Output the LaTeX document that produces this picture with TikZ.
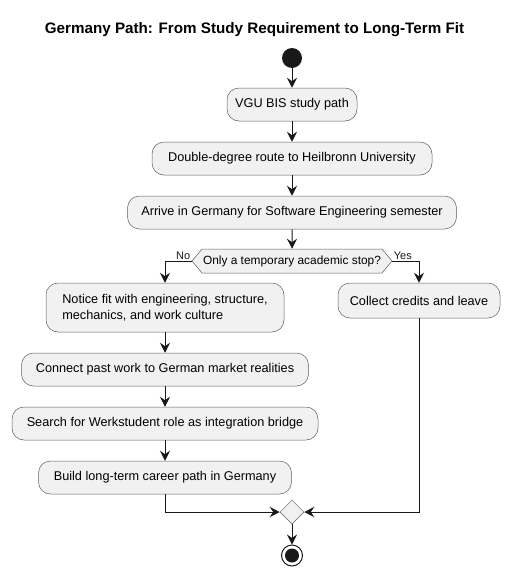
\documentclass[tikz,border=0pt]{standalone}
\usepackage{fontspec}
\setmainfont{Liberation Sans}
\usetikzlibrary{arrows.meta,shapes.geometric,shapes.symbols}
\tikzset{>={Stealth[length=10pt,width=10pt,inset=3.5pt]}}
\colorlet{penColor}{black!90}
\colorlet{boxFill}{black!5.5}
\tikzset{
  act/.style={draw=penColor!70, line width=0.5pt, fill=boxFill, rounded corners=12pt,
    minimum height=33pt, inner xsep=8pt, font=\fontsize{12.7}{15.5}\selectfont},
  ask/.style={signal, signal to=east and west, signal pointer angle=100, draw=penColor!70,
    line width=0.5pt, fill=boxFill, minimum height=24pt, inner sep=0pt,
    font=\fontsize{11.9}{14}\selectfont},
  mergebox/.style={diamond, draw=penColor!70, line width=0.5pt, fill=boxFill,
    minimum width=24pt, minimum height=24pt, inner sep=0pt},
  flow/.style={->, penColor, line width=1pt},
  lbl/.style={inner sep=1pt, font=\fontsize{11}{13}\selectfont}
}
\begin{document}
\begin{tikzpicture}[x=1pt,y=-1pt]
				\useasboundingbox (0,0) rectangle (510,576);
				\node [font=\fontsize{15.2}{18}\selectfont\bfseries] (title) at (254.5,30) {Germany Path: From Study Requirement to Long-Term Fit};
				% main column
				\node [circle, fill=penColor, minimum size=20pt, inner sep=0pt] (start) at (292,58) {};
				\node [act, minimum width=130pt] (vgu) at (292,104.5) {VGU BIS study path};
				\node [act, minimum width=280pt] (route) at (292,158.5) {Double-degree route to Heilbronn University};
				\node [act, minimum width=329pt] (arrive) at (292,212.5) {Arrive in Germany for Software Engineering semester};
				\node [ask, minimum width=200pt] (stop) at (292,261) {Only a temporary academic stop?};
				% no branch
				\node [act, minimum width=238pt, minimum height=49pt, align=left] (fit) at (165,307.5) {Notice fit with engineering, structure,\\mechanics, and work culture};
				\node [act, minimum width=287pt] (market) at (165,369.5) {Connect past work to German market realities};
				\node [act, minimum width=306pt] (werk) at (165,423.5) {Search for Werkstudent role as integration bridge};
				\node [act, minimum width=253pt] (career) at (165,477.5) {Build long-term career path in Germany};
				% yes branch
				\node [act, minimum width=162pt, minimum height=35pt] (leave) at (419,300.5) {Collect credits and leave};
				% merge and end
				\node [mergebox] (merge) at (292,512) {};
				\node [circle, draw=penColor, line width=1pt, minimum size=21pt, inner sep=0pt] (finish) at (292,555.5) {};
				\fill [penColor] (finish) circle [radius=7pt];
				\draw [flow] (start) -- (vgu);
				\draw [flow] (vgu) -- (route);
				\draw [flow] (route) -- (arrive);
				\draw [flow] (arrive) -- (stop);
				\draw [flow] (stop.west) -| node [pos=0, above left, lbl] {No} (fit.north);
				\draw [flow] (stop.east) -| node [pos=0, above right, lbl] {Yes} (leave.north);
				\draw [flow] (fit) -- (market);
				\draw [flow] (market) -- (werk);
				\draw [flow] (werk) -- (career);
				\draw [flow] (career.south) |- (merge.west);
				\draw [flow] (leave.south) |- (merge.east);
				\draw [flow] (merge) -- (finish);
\end{tikzpicture}
\end{document}
